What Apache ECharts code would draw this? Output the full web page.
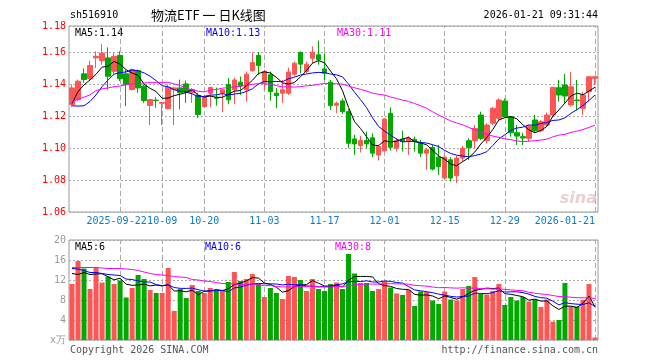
<!DOCTYPE html>
<html><head><meta charset="utf-8">
<script src="https://cdn.jsdelivr.net/npm/echarts@6/dist/echarts.min.js"></script>
<style>html,body{margin:0;padding:0;background:#fff}#c{width:660px;height:360px}</style>
</head><body><div id="c"></div>
<script>
const dates = [
 '2025-09-10','2025-09-11','2025-09-12','2025-09-15','2025-09-16','2025-09-17','2025-09-18','2025-09-19',
 '2025-09-22','2025-09-23','2025-09-24','2025-09-25','2025-09-26','2025-09-29','2025-09-30',
 '2025-10-09','2025-10-10','2025-10-13','2025-10-14','2025-10-15','2025-10-16','2025-10-17',
 '2025-10-20','2025-10-21','2025-10-22','2025-10-23','2025-10-24','2025-10-27','2025-10-28','2025-10-29','2025-10-30','2025-10-31',
 '2025-11-03','2025-11-04','2025-11-05','2025-11-06','2025-11-07','2025-11-10','2025-11-11','2025-11-12','2025-11-13','2025-11-14',
 '2025-11-17','2025-11-18','2025-11-19','2025-11-20','2025-11-21','2025-11-24','2025-11-25','2025-11-26','2025-11-27','2025-11-28',
 '2025-12-01','2025-12-02','2025-12-03','2025-12-04','2025-12-05','2025-12-08','2025-12-09','2025-12-10','2025-12-11','2025-12-12',
 '2025-12-15','2025-12-16','2025-12-17','2025-12-18','2025-12-19','2025-12-22','2025-12-23','2025-12-24','2025-12-25','2025-12-26',
 '2025-12-29','2025-12-30','2025-12-31','2026-01-05','2026-01-06','2026-01-07','2026-01-08','2026-01-09',
 '2026-01-12','2026-01-13','2026-01-14','2026-01-15','2026-01-16','2026-01-19','2026-01-20','2026-01-21'
];
const opens = [
 1.1274,1.1305,1.1466,1.1436,1.1566,1.1549,1.1566,1.1482,1.1582,1.1466,
 1.1368,1.1486,1.1389,1.1268,1.1301,1.1282,1.1249,1.1368,1.1378,1.1403,
 1.1347,1.1332,1.1261,1.1345,1.1317,1.1345,1.1400,1.1366,1.1414,1.1366,
 1.1485,1.1581,1.1414,1.1460,1.1345,1.1345,1.1345,1.1464,1.1600,1.1481,
 1.1564,1.1585,1.1497,1.1414,1.1269,1.1296,1.1229,1.1058,1.1017,1.1048,
 1.1065,1.0958,1.0983,1.1219,1.1000,1.1056,1.1042,1.1056,1.1031,1.0969,
 1.1004,1.0944,1.0813,1.0927,1.0827,1.0938,1.1047,1.1047,1.1208,1.1047,
 1.1156,1.1187,1.1296,1.1197,1.1097,1.1072,1.1062,1.1177,1.1110,1.1145,
 1.1208,1.1379,1.1396,1.1271,1.1302,1.1250,1.1354,1.1438
];
const closes = [
 1.1378,1.1420,1.1430,1.1518,1.1576,1.1597,1.1451,1.1576,1.1436,1.1400,
 1.1493,1.1378,1.1299,1.1305,1.1299,1.1286,1.1382,1.1378,1.1347,1.1353,
 1.1368,1.1211,1.1324,1.1380,1.1313,1.1366,1.1303,1.1428,1.1393,1.1464,
 1.1537,1.1518,1.1481,1.1355,1.1330,1.1366,1.1477,1.1533,1.1527,1.1527,
 1.1602,1.1554,1.1470,1.1267,1.1281,1.1229,1.1031,1.1027,1.1048,1.1027,
 1.0969,1.1010,1.1183,1.1006,1.1048,1.1042,1.1063,1.1042,1.0969,1.0990,
 1.0869,1.0885,1.0944,1.0813,1.0938,1.1000,1.1005,1.1124,1.1062,1.1145,
 1.1250,1.1302,1.1197,1.1097,1.1076,1.1064,1.1139,1.1110,1.1166,1.1208,
 1.1381,1.1333,1.1327,1.1385,1.1298,1.1333,1.1448,1.1448
];
const lows = [
 1.1258,1.1295,1.1410,1.1420,1.1503,1.1524,1.1368,1.1460,1.1420,1.1264,
 1.1360,1.1347,1.1284,1.1145,1.1253,1.1145,1.1243,1.1145,1.1243,1.1284,
 1.1284,1.1190,1.1255,1.1257,1.1267,1.1225,1.1276,1.1276,1.1334,1.1292,
 1.1480,1.1460,1.1366,1.1297,1.1250,1.1282,1.1334,1.1450,1.1470,1.1470,
 1.1533,1.1523,1.1428,1.1240,1.1219,1.1215,1.1000,1.0958,1.0973,1.1000,
 1.0944,1.0923,1.0979,1.0985,1.0979,1.0979,1.0958,1.0979,1.0944,1.0865,
 1.0860,1.0833,1.0802,1.0792,1.0781,1.0917,1.0926,1.0999,1.1051,1.1030,
 1.1145,1.1177,1.1193,1.1072,1.1020,1.1020,1.1041,1.1097,1.1100,1.1135,
 1.1197,1.1291,1.1281,1.1260,1.1239,1.1208,1.1291,1.1396
];
const highs = [
 1.1399,1.1430,1.1500,1.1549,1.1607,1.1653,1.1632,1.1597,1.1607,1.1490,
 1.1500,1.1493,1.1399,1.1309,1.1320,1.1288,1.1399,1.1385,1.1430,1.1424,
 1.1378,1.1347,1.1335,1.1385,1.1380,1.1368,1.1439,1.1443,1.1449,1.1481,
 1.1600,1.1602,1.1491,1.1480,1.1376,1.1428,1.1506,1.1543,1.1606,1.1543,
 1.1638,1.1675,1.1596,1.1428,1.1292,1.1312,1.1244,1.1083,1.1077,1.1104,
 1.1094,1.1021,1.1187,1.1256,1.1063,1.1110,1.1073,1.1073,1.1052,1.1000,
 1.1021,1.1021,1.0958,1.0944,1.0952,1.1015,1.1062,1.1145,1.1229,1.1156,
 1.1260,1.1312,1.1312,1.1202,1.1145,1.1097,1.1145,1.1208,1.1177,1.1223,
 1.1385,1.1427,1.1465,1.1479,1.1427,1.1354,1.1448,1.1448
];
const volumes = [
 11.2,15.8,14.3,10.2,14.5,11.5,12.7,11.2,11.9,8.5,
 10.4,13.0,12.2,10.0,9.4,9.4,14.4,5.8,10.2,8.4,
 11.0,9.8,9.4,10.4,9.9,9.9,11.6,13.6,11.8,12.2,
 13.2,11.2,8.6,10.4,9.4,8.2,12.8,12.6,12.0,9.8,
 12.2,10.2,9.8,11.2,11.5,10.2,17.2,13.3,11.4,11.4,
 9.8,10.2,11.7,10.5,9.3,9.0,10.0,6.8,9.7,9.6,
 7.9,7.2,9.7,8.1,7.9,10.2,10.8,12.6,9.2,9.1,
 9.8,11.2,7.0,8.6,7.9,8.6,7.7,8.1,6.6,8.1,
 3.7,4.0,11.4,6.7,6.7,8.0,11.2,0.5
];
// leading moving-average values (before enough history is visible)
const ma5Lead = [1.1280,1.1355,1.1397,1.1428];
const ma10Lead = [1.1266,1.1264,1.1266,1.1293,1.1334,1.1386,1.1428,1.1464,1.1474];
const ma30Lead = [1.1289,1.1307,1.1320,1.1334,1.1361,1.1372,1.1378,1.1386,1.1390,1.1397,
 1.1403,1.1407,1.1409,1.1411,1.1411,1.1412,1.1413,1.1403,1.1393,1.1378,
 1.1364,1.1357,1.1353,1.1364,1.1368,1.1376,1.1380,1.1385,1.1387];
const vma5Lead = [13.3,13.1,13.5,13.1];
const vma10Lead = [14.3,14.2,13.9,13.5,13.5,13.3,13.1,13.0,12.9];
const vma30Lead = [14.5,14.5,14.5,14.5,14.5,14.4,14.3,14.3,14.3,14.2,
 14.1,13.9,13.6,13.3,13.1,13.0,12.9,12.7,12.6,12.5,
 12.1,12.0,11.8,11.7,11.5,11.3,11.3,11.2,11.1];
const tickDates = ['2025-09-22','2025-10-09','2025-10-20','2025-11-03','2025-11-17','2025-12-01','2025-12-15','2025-12-29','2026-01-21'];
const fullLabelDates = ['2025-09-22','2026-01-21'];
const priceMin = 1.06, priceMax = 1.1766, priceStep = 0.02;
const volMin = 0, volMax = 20, volStep = 4;

function movingAvg(src, n, lead) {
  return src.map((_, i) => {
    if (i < n - 1) return lead[i];
    let s = 0; for (let k = i - n + 1; k <= i; k++) s += src[k];
    return +(s / n).toFixed(4);
  });
}
const ma5 = movingAvg(closes, 5, ma5Lead), ma10 = movingAvg(closes, 10, ma10Lead), ma30 = movingAvg(closes, 30, ma30Lead);
const vma5 = movingAvg(volumes, 5, vma5Lead), vma10 = movingAvg(volumes, 10, vma10Lead), vma30 = movingAvg(volumes, 30, vma30Lead);
const last = a => a[a.length - 1];

const RED = '#ff5555', GREEN = '#00a800';
const FONT = 'DejaVu Sans Mono';
const XCOLOR = '#0a7ccc';
const tickSet = new Set(tickDates);
const kData = dates.map((d, i) => [opens[i], closes[i], lows[i], highs[i]]);
const vData = volumes.map((v, i) => ({ value: v, itemStyle: { color: closes[i] >= opens[i] ? RED : GREEN } }));
const vLines = { silent: true, symbol: 'none', z: 1, label: { show: false },
  lineStyle: { color: '#aaa', type: [5, 3], width: 1 }, data: tickDates.map(d => ({ xAxis: d })) };
const lineS = (name, data, color, xi) => ({ name, type: 'line', data, xAxisIndex: xi, yAxisIndex: xi,
  showSymbol: false, symbol: 'none', lineStyle: { color, width: 1 }, itemStyle: { color }, z: 3, silent: true });

const txt = (x, y, text, color, align) => ({ type: 'text', x, y,
  style: { text, fill: color, font: '10px "' + FONT + '"', textVerticalAlign: 'middle', textAlign: align || 'left' } });

const chart = echarts.init(document.getElementById('c'));
chart.setOption({
  animation: false,
  backgroundColor: '#fff',
  grid: [
    { left: 69, top: 26, width: 529, height: 186, show: true, borderColor: '#999', borderWidth: 1 },
    { left: 69, top: 240, width: 529, height: 100, show: true, borderColor: '#999', borderWidth: 1 }
  ],
  xAxis: [
    { type: 'category', data: dates, gridIndex: 0, boundaryGap: true,
      axisLine: { show: false },
      axisTick: { show: true, inside: true, length: 3, alignWithLabel: true, interval: (i, v) => tickSet.has(v), lineStyle: { color: '#999' } },
      axisLabel: { interval: (i, v) => tickSet.has(v), color: XCOLOR, fontFamily: FONT, fontSize: 10, margin: 4,
        hideOverlap: false, alignMaxLabel: 'right',
        rich: { first: { color: XCOLOR, fontFamily: FONT, fontSize: 10, padding: [0, 7, 0, 0] } },
        formatter: v => v === fullLabelDates[0] ? '{first|' + v + '}' : (fullLabelDates.includes(v) ? v : v.slice(5)) },
      splitLine: { show: false } },
    { type: 'category', data: dates, gridIndex: 1, boundaryGap: true,
      axisLine: { show: false }, axisTick: { show: false }, axisLabel: { show: false }, splitLine: { show: false } }
  ],
  yAxis: [
    { type: 'value', gridIndex: 0, min: priceMin, max: priceMax, interval: priceStep, scale: true,
      axisLine: { show: false }, axisTick: { show: false },
      axisLabel: { color: '#ff0000', fontFamily: FONT, fontSize: 10, margin: 3, formatter: v => v.toFixed(2) },
      splitLine: { show: true, lineStyle: { color: '#aaa', type: [2, 2] } } },
    { type: 'value', gridIndex: 1, min: volMin, max: volMax, interval: volStep,
      axisLine: { show: false }, axisTick: { show: false },
      axisLabel: { color: '#999', fontFamily: FONT, fontSize: 10, margin: 3, formatter: v => v === 0 ? 'x万' : String(v) },
      splitLine: { show: true, lineStyle: { color: '#aaa', type: [2, 2] } } }
  ],
  series: [
    { type: 'candlestick', data: kData, xAxisIndex: 0, yAxisIndex: 0, barWidth: 5, z: 2, silent: true,
      itemStyle: { color: RED, color0: GREEN, borderColor: RED, borderColor0: GREEN, borderWidth: 1 },
      markLine: vLines },
    lineS('MA5', ma5, '#000000', 0),
    lineS('MA10', ma10, '#0000ff', 0),
    lineS('MA30', ma30, '#ff00ff', 0),
    { type: 'bar', data: vData, xAxisIndex: 1, yAxisIndex: 1, barWidth: 5, z: 2, silent: true, markLine: vLines },
    lineS('VMA5', vma5, '#000000', 1),
    lineS('VMA10', vma10, '#0000ff', 1),
    lineS('VMA30', vma30, '#ff00ff', 1)
  ],
  graphic: [
    txt(70, 15, 'sh516910', '#000'),
    { type: 'text', x: 151, y: 15, style: { text: '物流ETF 一 日K线图', fill: '#000', font: '13px "Noto Sans CJK SC"', textVerticalAlign: 'middle' } },
    txt(598, 15, '2026-01-21 09:31:44', '#000', 'right'),
    txt(75, 33, 'MA5:' + last(ma5).toFixed(2), '#000'),
    txt(206, 33, 'MA10:' + last(ma10).toFixed(2), '#0000ff'),
    txt(337, 33, 'MA30:' + last(ma30).toFixed(2), '#ff00ff'),
    txt(75, 247, 'MA5:' + Math.floor(last(vma5)), '#000'),
    txt(205, 247, 'MA10:' + Math.floor(last(vma10)), '#0000ff'),
    txt(335, 247, 'MA30:' + Math.floor(last(vma30)), '#ff00ff'),
    txt(70, 350, 'Copyright 2026 SINA.COM', '#555'),
    txt(598, 350, 'http://finance.sina.com.cn', '#555', 'right'),
    { type: 'text', x: 597, y: 199, z: 0, style: { text: 'sina', fill: 'rgba(215,170,170,0.55)', font: 'italic bold 16px "DejaVu Sans"', textVerticalAlign: 'middle', textAlign: 'right' } }
  ]
});
</script></body></html>
